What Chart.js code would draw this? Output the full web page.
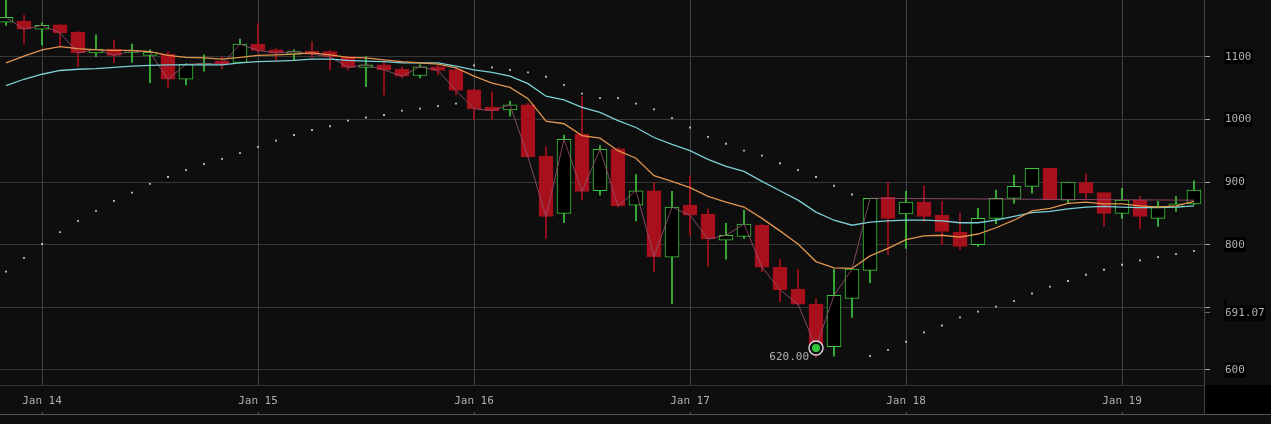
<!DOCTYPE html>
<html>
<head>
<meta charset="utf-8">
<script src="https://cdn.jsdelivr.net/npm/chart.js@4.4.1/dist/chart.umd.min.js"></script>
<style>
  html, body { margin: 0; padding: 0; background: #0e0e0e; }
  #wrap { width: 1271px; height: 424px; }
</style>
</head>
<body>
<div id="wrap"><canvas id="chart" width="1271" height="424"></canvas></div>
<script>
// 2h candles, Jan 13 20:00 -> Jan 19 08:00
const opens  = [1155,1157,1144,1151,1139,1106,1112,1107,1102,1104,1064,1087,1093,1091,1120,1111,1104,1109,1108,1100,1083,1087,1080,1070,1084,1079,1047,1019,1015,1023,941,850,976,886,953,863,886,780,863,849,807,813,831,764,729,705,637,714,759,876,849,868,847,820,800,842,874,893,922,871,899,883,850,871,842,860,865];
const highs  = [1195,1166,1154,1152,1140,1135,1127,1120,1111,1108,1089,1103,1100,1128,1153,1113,1111,1124,1110,1101,1100,1092,1084,1087,1087,1082,1048,1044,1029,1026,956,975,1036,958,955,912,899,885,910,857,834,855,833,776,761,713,761,762,874,899,885,894,869,850,858,887,911,922,922,900,913,883,890,877,869,877,902];
const lows   = [1150,1120,1119,1116,1084,1100,1091,1091,1058,1050,1055,1077,1081,1090,1106,1095,1095,1098,1079,1079,1052,1039,1066,1066,1071,1039,1000,1000,1005,939,810,835,871,879,860,838,757,706,815,765,777,810,757,709,704,620,622,684,739,784,794,837,800,792,797,833,866,882,872,866,872,829,842,826,829,853,864];
const closes = [1163,1144,1150,1138,1106,1112,1102,1109,1107,1064,1088,1089,1088,1120,1110,1106,1108,1104,1100,1083,1087,1079,1069,1084,1078,1046,1017,1014,1023,940,845,968,885,952,862,886,781,860,847,809,815,833,764,728,705,636,719,761,874,842,868,845,821,797,842,874,893,922,872,900,882,850,871,845,861,865,887];

const emaFast = [1090,1101,1111,1116,1113,1111,1110,1110,1108,1102,1099,1098,1096,1099,1102,1103,1104,1106,1103,1099,1098,1095,1092,1090,1088,1082,1069,1058,1051,1033,997,993,974,970,950,938,910,901,891,877,868,860,842,822,801,773,763,762,782,794,808,814,815,812,817,827,839,854,858,866,868,865,865,862,860,862,869];
const emaSlow = [1054,1064,1072,1078,1080,1081,1083,1085,1086,1087,1087,1087,1087,1090,1092,1093,1094,1096,1096,1094,1093,1092,1090,1090,1090,1085,1079,1075,1069,1057,1037,1031,1019,1011,998,987,971,960,950,936,925,917,901,886,871,852,839,831,836,838,839,839,838,835,835,839,845,851,853,857,860,861,860,859,859,860,862];
const sar = [757,779,801,820,838,854,870,883,897,908,919,929,937,946,956,966,975,983,989,998,1003,1007,1014,1017,1021,1025,1086,1083,1079,1075,1068,1055,1041,1034,1034,1025,1016,1002,987,972,961,950,942,930,919,908,894,880,622,632,645,660,671,684,693,701,710,722,733,742,752,760,768,775,780,785,790];

// close line runs up to the rebound candle, then a flat level
const closeLineEnd = 48;
const flatLevel = [874, 871];

const dayTicks = [2, 14, 26, 38, 50, 62];
const dayLabels = ['Jan 14', 'Jan 15', 'Jan 16', 'Jan 17', 'Jan 18', 'Jan 19'];
const priceTicks = [600, 691.07, 700, 800, 900, 1000, 1100];
const lastPrice = 691.07;

const lowIndex = 45;
const lowMarkerValue = 635;
const lowLabel = '620.00';

const UP = '#3cc63c';
const DOWN = '#a8101c';

const wickData = highs.map((h, i) => ({ x: i, y: [lows[i], h] }));
const bodyData = opens.map((o, i) => ({ x: i, y: [o, closes[i]] }));
const isUp = ctx => ctx.raw && closes[ctx.raw.x] >= opens[ctx.raw.x];

const bgPlugin = {
    id: 'bg',
    beforeDraw(chart) {
        const c = chart.ctx;
        const a = chart.chartArea;
        c.save();
        c.fillStyle = '#0e0e0e';
        c.fillRect(0, 0, chart.width, chart.height);
        c.fillStyle = '#000';
        c.fillRect(a.right, a.bottom, chart.width - a.right, 30);
        c.restore();
    },
    afterDraw(chart) {
        const c = chart.ctx;
        const a = chart.chartArea;
        const xs = chart.scales.x;
        c.save();
        c.lineWidth = 1;
        c.strokeStyle = '#333';
        c.beginPath();
        c.moveTo(0, a.bottom + 0.5); c.lineTo(a.right, a.bottom + 0.5);
        c.stroke();
        c.strokeStyle = '#555';
        c.beginPath();
        c.moveTo(0, a.bottom + 29.5); c.lineTo(chart.width, a.bottom + 29.5);
        dayTicks.forEach(t => {
            const px = Math.round(xs.getPixelForValue(t)) + 0.5;
            c.moveTo(px, a.bottom + 27); c.lineTo(px, a.bottom + 30);
        });
        c.stroke();
        c.strokeStyle = '#444';
        c.beginPath();
        c.moveTo(a.right + 0.5, 0); c.lineTo(a.right + 0.5, a.bottom + 30);
        c.stroke();

        // label under the low marker
        const pt = chart.getDatasetMeta(chart.data.datasets.length - 1).data[0];
        c.font = '11px "DejaVu Sans Mono"';
        c.fillStyle = '#b0b0b0';
        c.textAlign = 'right';
        c.textBaseline = 'middle';
        c.fillText(lowLabel, pt.x - 7, pt.y + 9);
        c.restore();
    }
};

new Chart(document.getElementById('chart'), {
    type: 'bar',
    data: {
        datasets: [
            {
                label: 'wick',
                data: wickData,
                barThickness: 1,
                grouped: false,
                backgroundColor: ctx => isUp(ctx) ? UP : DOWN,
                borderWidth: 0,
                order: 10
            },
            {
                label: 'body',
                data: bodyData,
                barThickness: 14,
                grouped: false,
                backgroundColor: ctx => isUp(ctx) ? '#000' : DOWN,
                borderColor: ctx => isUp(ctx) ? UP : DOWN,
                borderWidth: 1,
                borderSkipped: false,
                order: 9
            },
            {
                type: 'line',
                label: 'close',
                data: closes.slice(0, closeLineEnd + 1).map((v, i) => ({ x: i, y: v })),
                borderColor: 'rgba(150,80,115,0.85)',
                borderWidth: 1,
                pointRadius: 0,
                tension: 0,
                order: 5
            },
            {
                type: 'line',
                label: 'level',
                data: [{ x: closeLineEnd, y: flatLevel[0] }, { x: closes.length - 1, y: flatLevel[1] }],
                borderColor: 'rgba(150,80,115,0.85)',
                borderWidth: 1,
                pointRadius: 0,
                order: 5
            },
            {
                type: 'line',
                label: 'ema slow',
                data: emaSlow.map((v, i) => ({ x: i, y: v })),
                borderColor: '#7dcfd6',
                borderWidth: 1.3,
                pointRadius: 0,
                tension: 0,
                order: 4
            },
            {
                type: 'line',
                label: 'ema fast',
                data: emaFast.map((v, i) => ({ x: i, y: v })),
                borderColor: '#e0954e',
                borderWidth: 1.3,
                pointRadius: 0,
                tension: 0,
                order: 3
            },
            {
                type: 'line',
                label: 'sar',
                data: sar.map((v, i) => ({ x: i, y: v })),
                showLine: false,
                pointStyle: 'rect',
                pointRadius: 1.3,
                pointBackgroundColor: '#c4c4c4',
                pointBorderWidth: 0,
                order: 2
            },
            {
                type: 'line',
                label: 'ring',
                data: [{ x: lowIndex, y: lowMarkerValue }],
                showLine: false,
                pointRadius: 7,
                pointBackgroundColor: '#101010',
                pointBorderColor: '#dcdcdc',
                pointBorderWidth: 1.4,
                order: 1
            },
            {
                type: 'line',
                label: 'low',
                data: [{ x: lowIndex, y: lowMarkerValue }],
                showLine: false,
                pointRadius: 4,
                pointBackgroundColor: '#2fc83a',
                pointBorderWidth: 0,
                order: 0
            }
        ]
    },
    options: {
        responsive: false,
        animation: false,
        layout: { padding: 0, autoPadding: false },
        plugins: { legend: { display: false }, tooltip: { enabled: false } },
        scales: {
            x: {
                type: 'linear',
                offset: false,
                min: -1 / 3,
                max: 66 + 10 / 18,
                afterBuildTicks: scale => { scale.ticks = dayTicks.map(v => ({ value: v })); },
                afterFit: scale => { scale.height = 39; scale.paddingLeft = 0; scale.paddingRight = 0; },
                grid: { color: '#424242', drawTicks: false, offset: false },
                border: { display: false },
                ticks: {
                    padding: 10,
                    maxRotation: 0,
                    color: '#b0b0b0',
                    font: { family: 'DejaVu Sans Mono', size: 11 },
                    callback: v => dayLabels[dayTicks.indexOf(v)]
                }
            },
            y: {
                position: 'right',
                min: 576,
                max: 1190.5,
                afterBuildTicks: scale => { scale.ticks = priceTicks.map(v => ({ value: v })); },
                afterFit: scale => { scale.width = 67; scale.paddingTop = 0; scale.paddingBottom = 0; },
                grid: {
                    color: ctx => ctx.tick && ctx.tick.value === lastPrice ? 'rgba(0,0,0,0)' : '#363636',
                    tickColor: ctx => ctx.tick && ctx.tick.value === lastPrice ? '#666' : '#a0a0a0',
                    tickLength: 6
                },
                border: { display: false },
                ticks: {
                    padding: 15,
                    color: '#b0b0b0',
                    font: { family: 'DejaVu Sans Mono', size: 11 },
                    showLabelBackdrop: true,
                    backdropColor: '#000',
                    backdropPadding: { x: 1, y: 1 },
                    callback: v => v === 700 ? '' : (v === lastPrice ? lastPrice.toFixed(2) : String(v))
                }
            }
        }
    },
    plugins: [bgPlugin]
});
</script>
</body>
</html>
